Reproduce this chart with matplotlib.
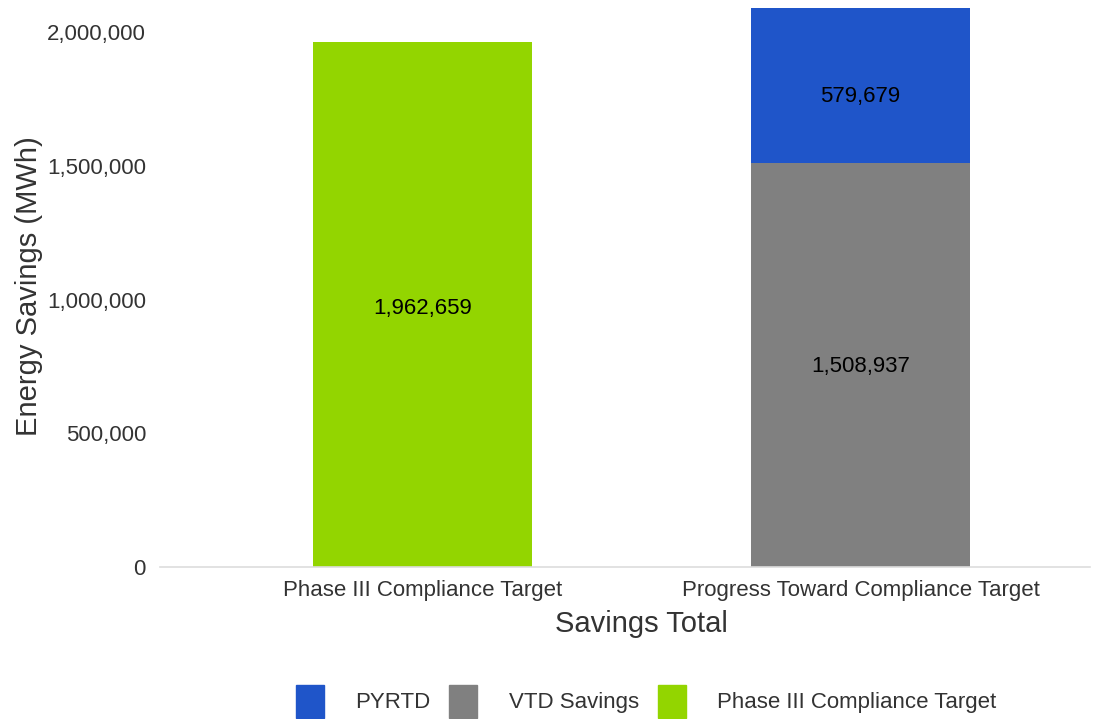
import matplotlib.pyplot as plt
from matplotlib.patches import Patch
from matplotlib.ticker import FuncFormatter

plt.rcParams['font.family'] = ['Liberation Sans', 'DejaVu Sans']

categories = ['Phase III Compliance Target', 'Progress Toward Compliance Target']
compliance_target = [1962659, 0]
vtd_savings = [0, 1508937]
pyrtd = [0, 579679]

green = '#93d500'
gray = '#808080'
blue = '#1f55c9'
text_col = '#333333'

fig = plt.figure(figsize=(10.95, 7.19), dpi=100)
ax = fig.add_axes([0.146, 0.2114, 0.849, 0.7813])

x = list(range(len(categories)))
w = 0.5
ax.bar(x, compliance_target, w, color=green)
ax.bar(x, vtd_savings, w, color=gray)
ax.bar(x, pyrtd, w, bottom=vtd_savings, color=blue)

# value labels in the middle of each segment
for i in x:
    if compliance_target[i]:
        ax.text(i, compliance_target[i] / 2 - 15000, f'{compliance_target[i]:,}',
                ha='center', va='center', fontsize=16, color='black')
    if vtd_savings[i]:
        ax.text(i, vtd_savings[i] / 2 - 5000, f'{vtd_savings[i]:,}',
                ha='center', va='center', fontsize=16, color='black')
    if pyrtd[i]:
        ax.text(i, vtd_savings[i] + pyrtd[i] / 2 - 40000, f'{pyrtd[i]:,}',
                ha='center', va='center', fontsize=16, color='black')

ax.set_xlim(-0.6, 1.523)
ax.set_ylim(0, 2100000)
ax.set_yticks([0, 500000, 1000000, 1500000, 2000000])
ax.yaxis.set_major_formatter(FuncFormatter(lambda v, p: f'{int(v):,}'))
ax.set_xticks(x)
ax.set_xticklabels(categories)

for s in ['top', 'right', 'left']:
    ax.spines[s].set_visible(False)
ax.spines['bottom'].set_color('#dddddd')
ax.spines['bottom'].set_linewidth(1.2)
ax.tick_params(axis='y', length=0, labelsize=16, colors=text_col, pad=10)
ax.tick_params(axis='x', length=0, labelsize=16, colors=text_col, pad=9)

ax.set_ylabel('Energy Savings (MWh)', fontsize=21, color=text_col, labelpad=3)
ax.set_xlabel('Savings Total', fontsize=21, color=text_col, labelpad=7)
ax.xaxis.label.set_x(0.518)

handles = [Patch(color=blue), Patch(color=gray), Patch(color=green)]
fig.legend(handles, ['PYRTD', 'VTD Savings', 'Phase III Compliance Target'],
           loc='lower center', bbox_to_anchor=(0.590, -0.026), ncol=3,
           frameon=False, fontsize=16, handlelength=1.26, handleheight=1.9,
           columnspacing=0.85, handletextpad=1.4, labelcolor=text_col)

fig.savefig('out.png', dpi=100)
